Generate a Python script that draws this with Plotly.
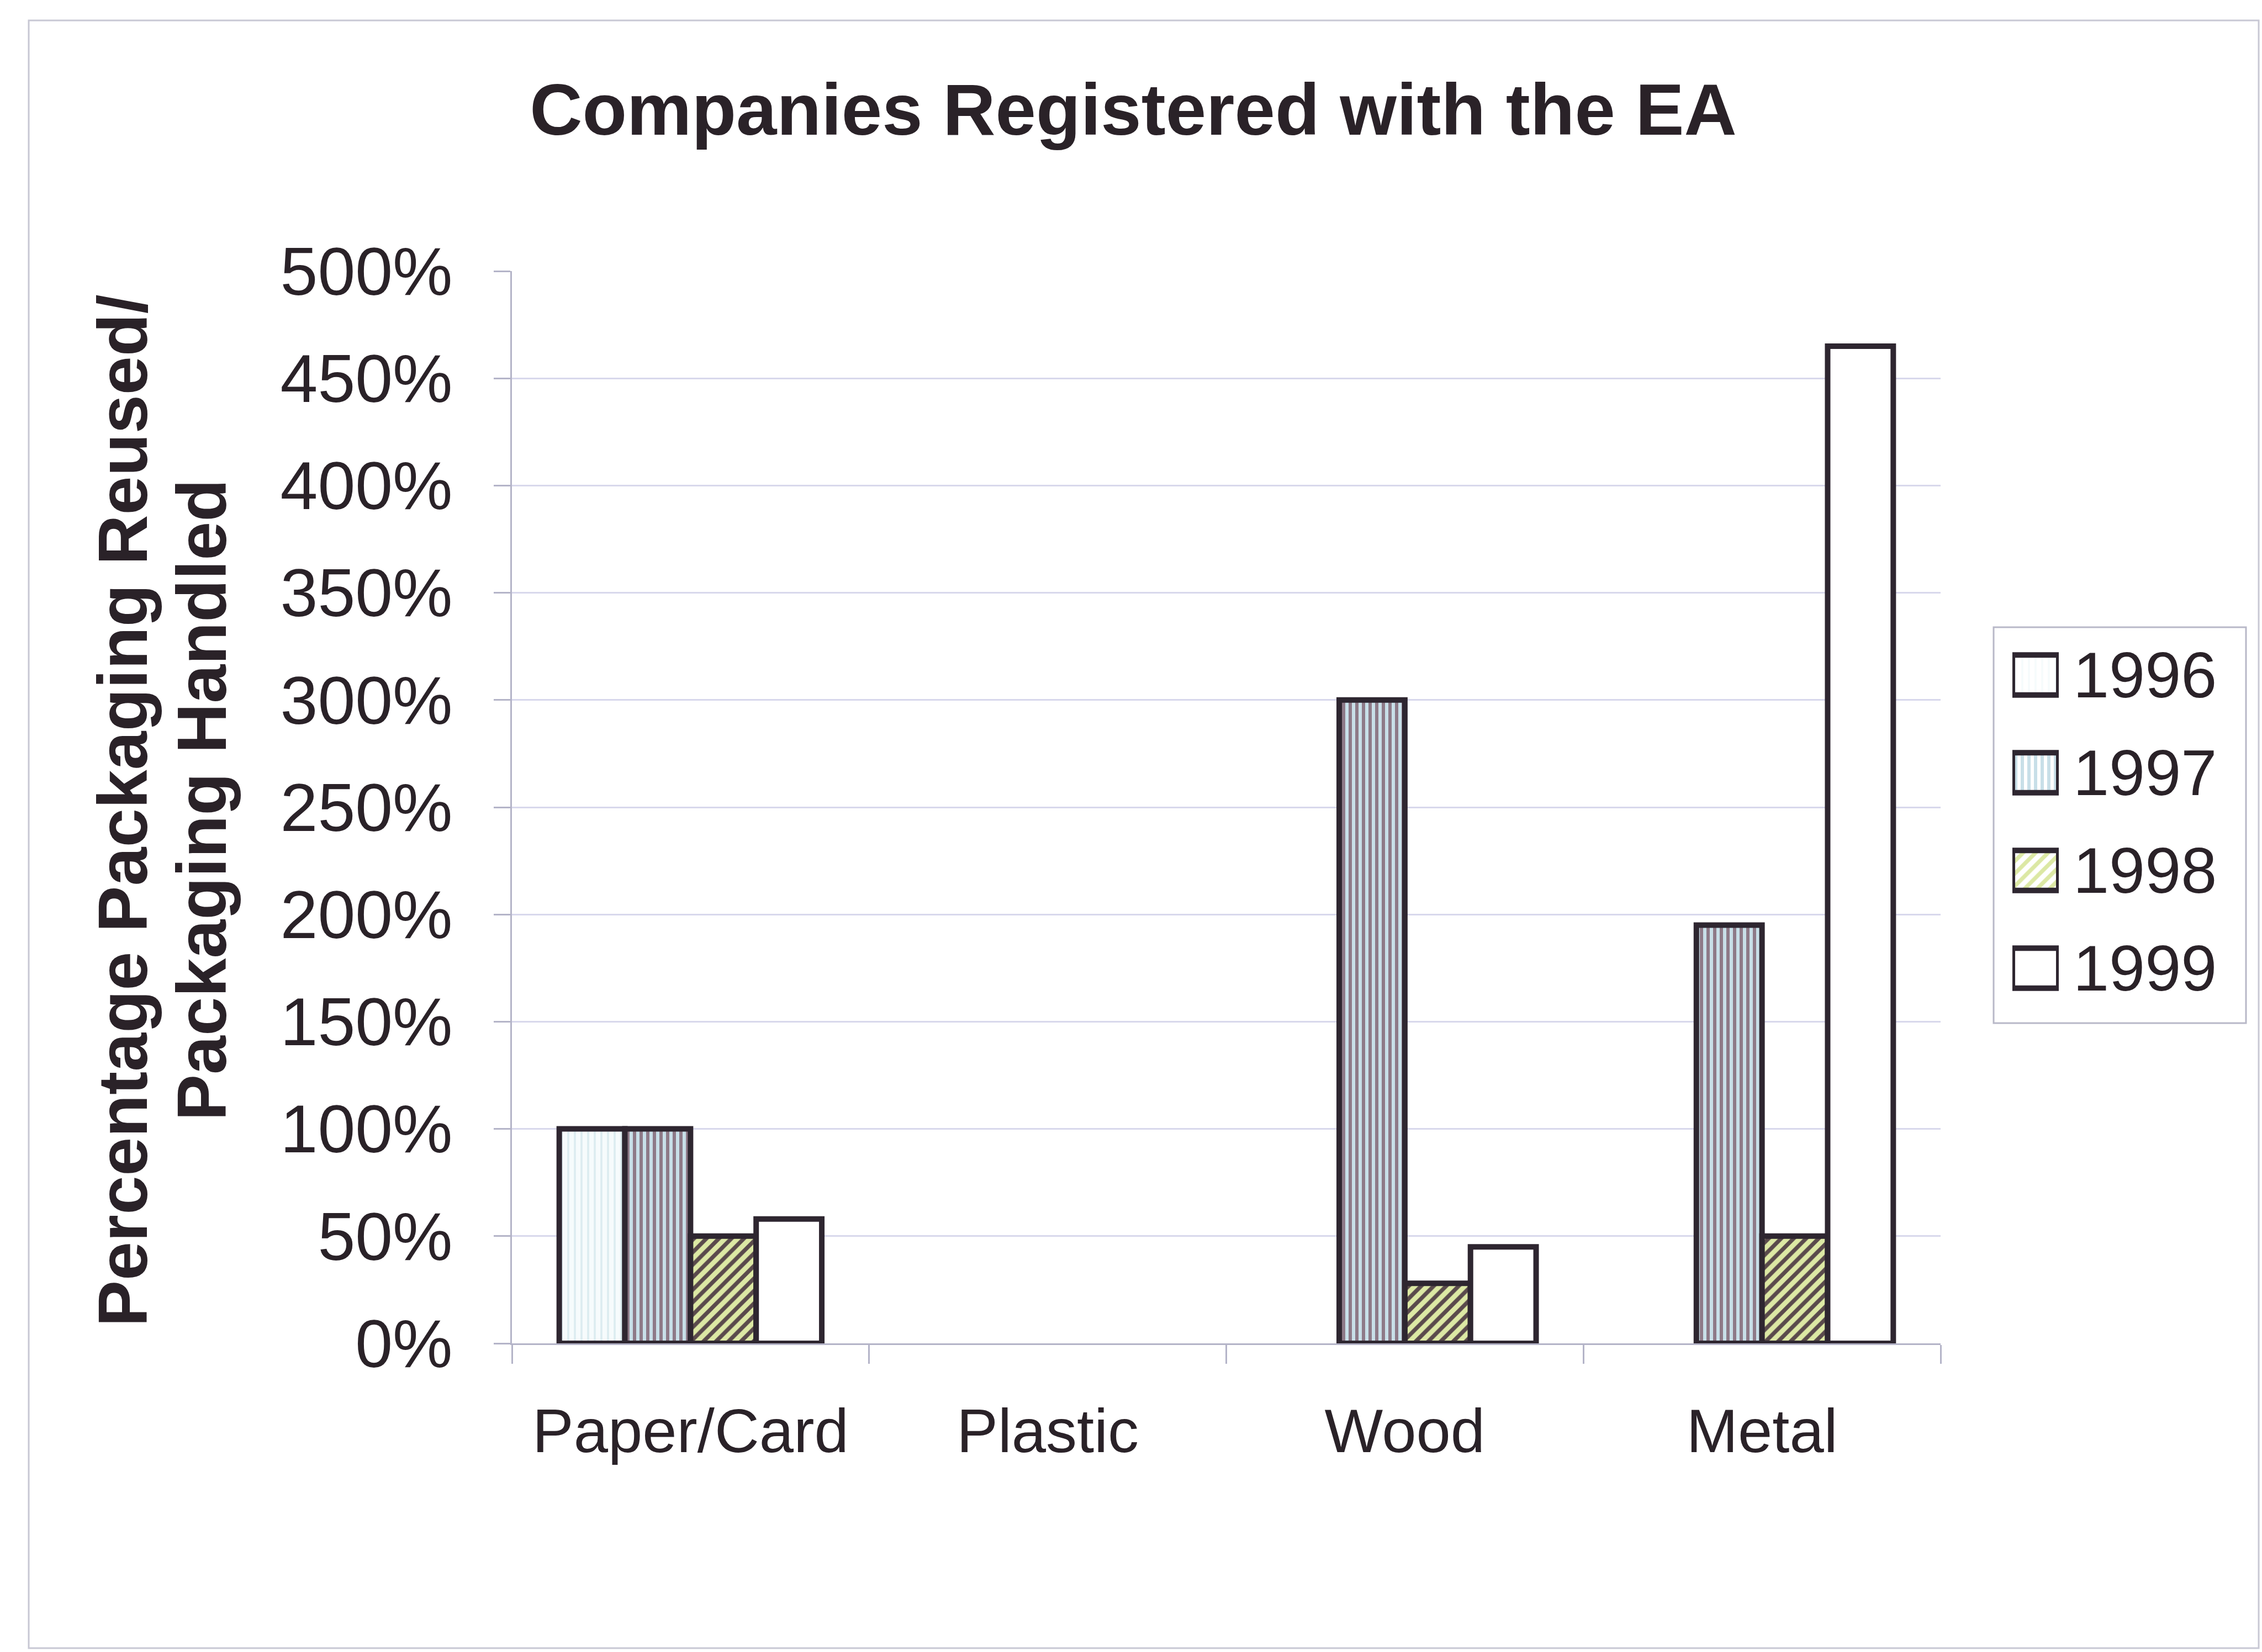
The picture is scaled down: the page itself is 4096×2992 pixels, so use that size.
import plotly.graph_objects as go

# ---- data -------------------------------------------------------------
materials = ["Paper/Card", "Plastic", "Wood", "Metal"]
years = ["1996", "1997", "1998", "1999"]

share_1996 = [1.00, None, None, None]
share_1997 = [1.00, None, 3.00, 1.95]
share_1998 = [0.50, None, 0.28, 0.50]
share_1999 = [0.58, None, 0.45, 4.65]

y_ticks = [0, 0.5, 1.0, 1.5, 2.0, 2.5, 3.0, 3.5, 4.0, 4.5, 5.0]

title_text = "Companies Registered with the EA"
y_title_lines = ["Percentage Packaging Reused/", "Packaging Handled"]

# ---- page geometry (pixels) -------------------------------------------
W, H = 4096, 2992
PLOT_L, PLOT_R, PLOT_T, PLOT_B = 927, 3514, 491, 2433
FONT = "Liberation Sans, Arial, sans-serif"
INK = "#2a2228"
EDGE = "#2e2630"
GRID = "#d8d8ec"
AXIS = "#b4b4c8"


def fx(p):
    return p / W


def fy(p):
    return 1 - p / H


styles = {
    "1996": dict(shape="|", bg="#f6fbfc", fg="#dcecf0", size=12, solidity=0.3),
    "1997": dict(shape="|", bg="#c8dfe8", fg="#8e7a88", size=12, solidity=0.5),
    "1998": dict(shape="/", bg="#dce8a4", fg="#5a4a4c", size=16, solidity=0.45),
    "1999": dict(shape="", bg="#ffffff", fg="#ffffff", size=12, solidity=0.3),
}

series = [share_1996, share_1997, share_1998, share_1999]

fig = go.Figure()

for yr, vals in zip(years, series):
    st = styles[yr]
    fig.add_trace(go.Bar(
        name=yr,
        x=materials,
        y=vals,
        marker=dict(
            color=st["bg"],
            line=dict(color=EDGE, width=10),
            pattern=dict(shape=st["shape"], bgcolor=st["bg"], fgcolor=st["fg"],
                         size=st["size"], solidity=st["solidity"],
                         fillmode="replace"),
        ),
        showlegend=False,
    ))

# legend swatches drawn as a small horizontal bar chart on its own axes
fig.add_trace(go.Bar(
    x=[1, 1, 1, 1],
    y=years,
    orientation="h",
    width=0.41,
    xaxis="x2",
    yaxis="y2",
    marker=dict(
        color=[styles[y]["bg"] for y in years],
        line=dict(color=EDGE, width=10),
        pattern=dict(
            shape=[styles[y]["shape"] for y in years],
            bgcolor=[styles[y]["bg"] for y in years],
            fgcolor=[styles[y]["fg"] for y in years],
            size=[styles[y]["size"] for y in years],
            solidity=[styles[y]["solidity"] for y in years],
            fillmode="replace",
        ),
    ),
    showlegend=False,
    hoverinfo="skip",
))

fig.update_layout(
    template="none",
    width=W,
    height=H,
    margin=dict(l=0, r=0, t=0, b=0, pad=0, autoexpand=False),
    paper_bgcolor="white",
    plot_bgcolor="white",
    barmode="group",
    bargap=0.265,
    bargroupgap=0,
    showlegend=False,
    font=dict(family=FONT, color=INK),
    title=dict(
        text="<b>" + title_text + "</b>",
        x=2052 / W, y=1 - 198 / H,
        xref="container", yref="container",
        xanchor="center", yanchor="middle",
        font=dict(size=132, family=FONT, color=INK),
    ),
    xaxis=dict(
        domain=[fx(PLOT_L), fx(PLOT_R)],
        anchor="y",
        automargin=False,
        type="category",
        showgrid=False,
        showline=True, linecolor=AXIS, linewidth=3,
        ticks="outside", tickson="boundaries", ticklen=34,
        tickcolor=AXIS, tickwidth=3,
        tickfont=dict(size=112, family=FONT, color=INK),
        ticklabelstandoff=60,
        zeroline=False,
    ),
    yaxis=dict(
        domain=[fy(PLOT_B), fy(PLOT_T)],
        anchor="x",
        automargin=False,
        range=[0, 5],
        tickvals=y_ticks,
        tickformat=".0%",
        showgrid=True, gridcolor=GRID, gridwidth=3,
        showline=True, linecolor=AXIS, linewidth=3,
        ticks="outside", ticklen=30, tickcolor=AXIS, tickwidth=3,
        tickfont=dict(size=122, family=FONT, color=INK),
        ticklabelstandoff=50,
        zeroline=False,
    ),
    xaxis2=dict(
        domain=[fx(3644), fx(3728)],
        anchor="y2",
        automargin=False,
        range=[0, 1],
        visible=False,
        fixedrange=True,
    ),
    yaxis2=dict(
        domain=[fy(1842), fy(1134)],
        anchor="x2",
        automargin=False,
        type="category",
        autorange="reversed",
        side="right",
        showgrid=False, showline=False, zeroline=False,
        ticks="",
        tickfont=dict(size=117, family=FONT, color=INK),
        ticklabelstandoff=25,
        fixedrange=True,
    ),
)

# page frame and legend frame
fig.add_shape(type="rect", xref="paper", yref="paper",
              x0=fx(52), x1=fx(4090), y0=fy(37), y1=fy(2985),
              line=dict(color="#c8c8d4", width=3), layer="below")
fig.add_shape(type="rect", xref="paper", yref="paper",
              x0=fx(3610), x1=fx(4067), y0=fy(1136), y1=fy(1853),
              line=dict(color="#b8b8c8", width=3), layer="below")

# two-line rotated axis title
for text, cx, cy in [(y_title_lines[0], 222, 1468), (y_title_lines[1], 365, 1449)]:
    fig.add_annotation(
        text="<b>" + text + "</b>",
        xref="paper", yref="paper",
        x=fx(cx), y=fy(cy),
        xanchor="center", yanchor="middle",
        textangle=-90, showarrow=False,
        font=dict(size=126, family=FONT, color=INK),
    )

fig.write_html("out.html")
